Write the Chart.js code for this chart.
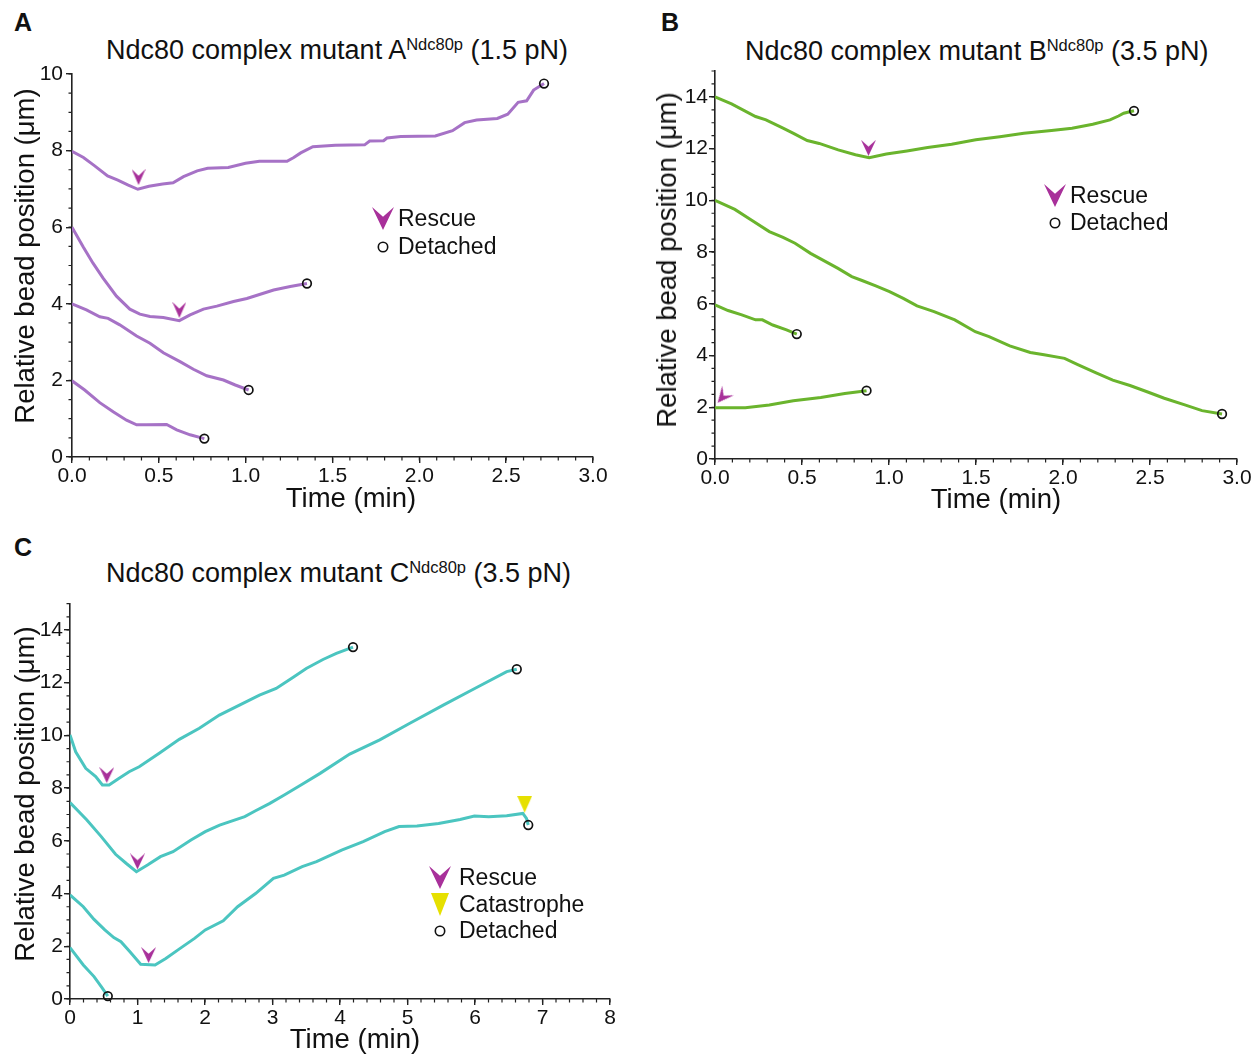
<!DOCTYPE html>
<html>
<head>
<meta charset="utf-8">
<script src="https://cdn.jsdelivr.net/npm/chart.js@4.4.1/dist/chart.umd.min.js"></script>
<style>
  body { margin: 0; background: #fff; }
  #page { position: relative; width: 1260px; height: 1055px; overflow: hidden;
          font-family: "Liberation Sans", Arial, sans-serif; color: #111; }
  canvas { position: absolute; }
  .letter { position: absolute; font-weight: bold; font-size: 25px; line-height: 25px; }
  .title { position: absolute; font-size: 27px; line-height: 27px; white-space: nowrap; }
  .title span { font-size: 16.5px; position: relative; top: -9px; }
  .xt, .yt { position: absolute; font-size: 27.5px; line-height: 28px; white-space: nowrap;
             transform: translate(-50%, -50%); }
  .yt { transform: translate(-50%, -50%) rotate(-90deg); }
  .icon { position: absolute; line-height: 0; }
  .ltext { position: absolute; font-size: 23px; line-height: 23px; white-space: nowrap; }
</style>
</head>
<body>
<div id="page">
  <div class="letter" style="left:14px;top:10px">A</div>
  <div class="letter" style="left:661px;top:10px">B</div>
  <div class="letter" style="left:14px;top:535px">C</div>

  <div class="title" style="left:106px;top:37px">Ndc80 complex mutant A<span>Ndc80p</span> (1.5 pN)</div>
  <div class="title" style="left:745px;top:38px">Ndc80 complex mutant B<span>Ndc80p</span> (3.5 pN)</div>
  <div class="title" style="left:106px;top:560px">Ndc80 complex mutant C<span>Ndc80p</span> (3.5 pN)</div>

  <canvas id="chartA" width="640" height="520" style="left:0;top:0"></canvas>
  <canvas id="chartB" width="620" height="520" style="left:640px;top:0"></canvas>
  <canvas id="chartC" width="640" height="525" style="left:0;top:530px"></canvas>

  <div class="yt" style="left:25px;top:256px">Relative bead position (μm)</div>
  <div class="yt" style="left:667px;top:260px">Relative bead position (μm)</div>
  <div class="yt" style="left:25px;top:794px">Relative bead position (μm)</div>
  <div class="xt" style="left:351px;top:498px">Time (min)</div>
  <div class="xt" style="left:996px;top:499px">Time (min)</div>
  <div class="xt" style="left:355px;top:1039px">Time (min)</div>
</div>

<script>
// panel A (1.5 pN)
const aTime1 = [0, 0.066, 0.125, 0.205, 0.264, 0.324, 0.379, 0.443, 0.522, 0.582, 0.642, 0.721, 0.781, 0.900, 0.999, 1.079, 1.238, 1.277, 1.317, 1.387, 1.516, 1.685, 1.714, 1.794, 1.814, 1.893, 2.092, 2.191, 2.261, 2.330, 2.449, 2.509, 2.569, 2.618, 2.658, 2.718];
const aPos1 = [7.98, 7.82, 7.62, 7.34, 7.23, 7.10, 6.99, 7.07, 7.13, 7.16, 7.32, 7.47, 7.54, 7.56, 7.67, 7.72, 7.72, 7.82, 7.94, 8.10, 8.14, 8.15, 8.25, 8.26, 8.33, 8.37, 8.38, 8.52, 8.73, 8.80, 8.84, 8.95, 9.26, 9.30, 9.58, 9.75];
const aTime2 = [0, 0.064, 0.121, 0.179, 0.256, 0.333, 0.391, 0.449, 0.526, 0.618, 0.680, 0.757, 0.834, 0.930, 1.007, 1.084, 1.161, 1.257, 1.353];
const aPos2 = [6.0, 5.49, 5.06, 4.67, 4.20, 3.86, 3.73, 3.67, 3.64, 3.56, 3.71, 3.86, 3.94, 4.06, 4.14, 4.25, 4.36, 4.45, 4.53];
const aTime3 = [0, 0.083, 0.160, 0.208, 0.275, 0.372, 0.449, 0.526, 0.622, 0.699, 0.776, 0.872, 0.940, 1.017];
const aPos3 = [4.0, 3.84, 3.66, 3.62, 3.45, 3.16, 2.97, 2.72, 2.49, 2.29, 2.12, 2.01, 1.88, 1.75];
const aTime4 = [0, 0.073, 0.160, 0.237, 0.314, 0.372, 0.429, 0.545, 0.603, 0.680, 0.762];
const aPos4 = [1.99, 1.75, 1.42, 1.18, 0.96, 0.84, 0.84, 0.85, 0.71, 0.58, 0.48];
const aRescueTime = [0.383, 0.618];
const aRescuePos = [7.31, 3.84];
const aDetachTime = [2.718, 1.353, 1.017, 0.762];
const aDetachPos = [9.75, 4.53, 1.75, 0.48];

// panel B (3.5 pN)
const bTime1 = [0, 0.095, 0.233, 0.293, 0.391, 0.451, 0.530, 0.599, 0.708, 0.807, 0.886, 0.985, 1.103, 1.222, 1.360, 1.499, 1.637, 1.775, 1.934, 2.052, 2.171, 2.270, 2.319, 2.349, 2.408];
const bPos1 = [14.0, 13.73, 13.24, 13.11, 12.79, 12.59, 12.31, 12.20, 11.95, 11.76, 11.65, 11.79, 11.91, 12.04, 12.17, 12.34, 12.46, 12.59, 12.70, 12.79, 12.94, 13.11, 13.26, 13.37, 13.46];
const bTime2 = [0, 0.114, 0.213, 0.312, 0.391, 0.46, 0.549, 0.628, 0.707, 0.786, 0.845, 0.924, 1.003, 1.082, 1.161, 1.259, 1.378, 1.496, 1.575, 1.694, 1.812, 1.891, 2.009, 2.088, 2.187, 2.286, 2.385, 2.483, 2.582, 2.700, 2.799, 2.914];
const bPos2 = [10.0, 9.65, 9.22, 8.79, 8.57, 8.34, 7.95, 7.66, 7.37, 7.05, 6.90, 6.69, 6.47, 6.21, 5.92, 5.70, 5.38, 4.92, 4.73, 4.37, 4.12, 4.03, 3.89, 3.64, 3.34, 3.05, 2.84, 2.60, 2.35, 2.09, 1.87, 1.74];
const bTime3 = [0, 0.075, 0.154, 0.233, 0.272, 0.332, 0.411, 0.470];
const bPos3 = [5.96, 5.74, 5.57, 5.38, 5.38, 5.18, 4.99, 4.83];
const bTime4 = [0, 0.174, 0.312, 0.450, 0.608, 0.746, 0.871];
const bPos4 = [1.98, 1.98, 2.09, 2.25, 2.38, 2.53, 2.64];
const bRescueTime = [0.882, 0.045];
const bRescuePos = [12.03, 2.41];
const bDetachTime = [2.408, 2.914, 0.470, 0.871];
const bDetachPos = [13.46, 1.74, 4.83, 2.64];

// panel C (3.5 pN)
const cTime1 = [0, 0.084, 0.233, 0.381, 0.480, 0.579, 0.728, 0.876, 1.025, 1.322, 1.619, 1.916, 2.213, 2.510, 2.807, 3.054, 3.302, 3.5, 3.748, 3.946, 4.193];
const cPos1 = [10.02, 9.38, 8.75, 8.44, 8.12, 8.12, 8.37, 8.62, 8.81, 9.32, 9.85, 10.27, 10.77, 11.15, 11.53, 11.78, 12.20, 12.54, 12.88, 13.11, 13.35];
const cTime2 = [0, 0.25, 0.463, 0.675, 0.835, 0.984, 1.154, 1.34, 1.526, 1.792, 2.004, 2.217, 2.589, 2.749, 2.961, 3.174, 3.44, 3.705, 4.144, 4.589, 5.035, 5.530, 5.975, 6.470, 6.619];
const cPos2 = [7.45, 6.79, 6.16, 5.49, 5.14, 4.83, 5.09, 5.40, 5.59, 6.03, 6.35, 6.60, 6.92, 7.14, 7.42, 7.74, 8.15, 8.56, 9.29, 9.83, 10.46, 11.15, 11.75, 12.42, 12.51];
const cTime3 = [0, 0.197, 0.356, 0.516, 0.649, 0.755, 0.888, 1.047, 1.26, 1.419, 1.632, 1.845, 2.004, 2.27, 2.483, 2.749, 3.014, 3.174, 3.44, 3.652, 4.024, 4.343, 4.662, 4.875, 5.141, 5.46, 5.779, 5.991, 6.204, 6.47, 6.709, 6.762, 6.789];
const cPos3 = [3.95, 3.5, 3.02, 2.62, 2.33, 2.17, 1.79, 1.32, 1.29, 1.54, 1.92, 2.30, 2.62, 2.97, 3.50, 4.0, 4.58, 4.70, 5.02, 5.21, 5.65, 5.97, 6.35, 6.54, 6.56, 6.66, 6.81, 6.94, 6.91, 6.95, 7.04, 6.85, 6.60];
const cTime4 = [0, 0.197, 0.356, 0.463, 0.56];
const cPos4 = [1.95, 1.29, 0.85, 0.47, 0.11];
const cRescueTime = [0.545, 1.0, 1.164];
const cRescuePos = [8.50, 5.22, 1.67];
const cCatTime = [6.736];
const cCatPos = [7.39];
const cDetachTime = [4.193, 6.619, 6.789, 0.56];
const cDetachPos = [13.35, 12.51, 6.60, 0.11];

const purple = '#a672c6', green = '#6ab42d', teal = '#4bc5c0';
const magenta = '#a8309a', yellow = '#e6e000';
const fontFamily = '"Liberation Sans", Arial, sans-serif';

function chevron(w, h) {
  const c = document.createElement('canvas');
  c.width = w; c.height = h;
  const g = c.getContext('2d');
  g.fillStyle = magenta;
  g.beginPath();
  g.moveTo(0, 0); g.lineTo(w / 2, h * 0.42); g.lineTo(w, 0); g.lineTo(w / 2, h);
  g.closePath(); g.fill();
  return c;
}
function downTriangle(w, h) {
  const c = document.createElement('canvas');
  c.width = w; c.height = h;
  const g = c.getContext('2d');
  g.fillStyle = yellow;
  g.beginPath(); g.moveTo(0, 0); g.lineTo(w, 0); g.lineTo(w / 2, h); g.closePath(); g.fill();
  return c;
}

function pts(xs, ys) { return xs.map((x, i) => ({ x: x, y: ys[i] })); }

function trace(xs, ys, color) {
  return { data: pts(xs, ys), showLine: true, borderColor: color, borderWidth: 3,
           pointRadius: 0, order: 5 };
}
function detached(xs, ys) {
  return { data: pts(xs, ys), showLine: false, pointStyle: 'circle', pointRadius: 4.3,
           borderColor: '#111', borderWidth: 1.7, backgroundColor: 'rgba(0,0,0,0)',
           clip: false, order: 1 };
}
function symbols(xs, ys, img, rotation) {
  return { data: pts(xs, ys), showLine: false, pointStyle: img, pointRadius: 6,
           rotation: rotation || 0, clip: false, order: 2 };
}

// short minor ticks between the labelled ones
const minorTicks = {
  id: 'minorTicks',
  afterDraw(chart, args, opts) {
    const { ctx, chartArea } = chart;
    const xs = chart.scales.x, ys = chart.scales.y;
    ctx.save();
    ctx.strokeStyle = '#222';
    ctx.lineWidth = 1.2;
    ctx.beginPath();
    const nx = Math.round((xs.max - xs.min) / opts.x);
    for (let i = 0; i <= nx; i++) {
      const px = xs.getPixelForValue(xs.min + i * opts.x);
      ctx.moveTo(px, chartArea.bottom); ctx.lineTo(px, chartArea.bottom + 3.5);
    }
    const ny = Math.round((ys.max - ys.min) / opts.y);
    for (let i = 0; i <= ny; i++) {
      const py = ys.getPixelForValue(ys.min + i * opts.y);
      ctx.moveTo(chartArea.left, py); ctx.lineTo(chartArea.left - 3.5, py);
    }
    ctx.stroke();
    ctx.restore();
  }
};

function makeChart(id, datasets, o) {
  return new Chart(document.getElementById(id), {
    type: 'scatter',
    data: { datasets: datasets },
    plugins: [minorTicks],
    options: {
      responsive: false,
      animation: false,
      devicePixelRatio: 1,
      layout: { padding: o.padding },
      plugins: {
        legend: { display: false },
        tooltip: { enabled: false },
        minorTicks: { x: o.xMinor, y: o.yMinor }
      },
      scales: {
        x: {
          type: 'linear', min: 0, max: o.xMax,
          afterFit: s => { s.height = o.xHeight; },
          border: { color: '#222', width: 1.6 },
          grid: { drawOnChartArea: false, color: '#222', lineWidth: 1.4, tickLength: 6 },
          ticks: { stepSize: o.xStep, padding: 1, color: '#111', maxRotation: 0, autoSkip: false,
                   font: { family: fontFamily, size: 21 }, callback: o.xFormat }
        },
        y: {
          type: 'linear', min: 0, max: o.yMax,
          afterFit: s => { s.width = o.yWidth; },
          border: { color: '#222', width: 1.6 },
          grid: { drawOnChartArea: false, color: '#222', lineWidth: 1.4, tickLength: 6 },
          ticks: { stepSize: 2, padding: o.yPad, color: '#111', includeBounds: false, autoSkip: false,
                   font: { family: fontFamily, size: 21 } }
        }
      }
    }
  });
}

const oneDecimal = v => v.toFixed(1);

makeChart('chartA', [
  detached(aDetachTime, aDetachPos),
  symbols(aRescueTime, aRescuePos, chevron(14, 16)),
  trace(aTime1, aPos1, purple),
  trace(aTime2, aPos2, purple),
  trace(aTime3, aPos3, purple),
  trace(aTime4, aPos4, purple)
], { padding: { left: 0, top: 74, right: 47, bottom: 0 }, yWidth: 72, xHeight: 63,
     xMax: 3, xStep: 0.5, xMinor: 0.1, yMax: 10, yMinor: 0.5, yPad: 3, xFormat: oneDecimal });

makeChart('chartB', [
  detached(bDetachTime, bDetachPos),
  symbols(bRescueTime, bRescuePos, chevron(15, 16), ctx => ctx.dataIndex === 1 ? 40 : 0),
  trace(bTime1, bPos1, green),
  trace(bTime2, bPos2, green),
  trace(bTime3, bPos3, green),
  trace(bTime4, bPos4, green)
], { padding: { left: 0, top: 71, right: 23, bottom: 0 }, yWidth: 75, xHeight: 61,
     xMax: 3, xStep: 0.5, xMinor: 0.1, yMax: 15, yMinor: 0.5, yPad: 1, xFormat: oneDecimal });

makeChart('chartC', [
  detached(cDetachTime, cDetachPos),
  symbols(cRescueTime, cRescuePos, chevron(15, 16)),
  symbols(cCatTime, cCatPos, downTriangle(15, 17)),
  trace(cTime1, cPos1, teal),
  trace(cTime2, cPos2, teal),
  trace(cTime3, cPos3, teal),
  trace(cTime4, cPos4, teal)
], { padding: { left: 0, top: 73.6, right: 30, bottom: 0 }, yWidth: 70, xHeight: 56,
     xMax: 8, xStep: 1, xMinor: 0.2, yMax: 15, yMinor: 0.5, yPad: 1, xFormat: v => String(v) });

// legends
const page = document.getElementById('page');
const rescueIcon = { w: 22, h: 23, svg: '<svg width="22" height="23"><polygon points="0,0 11,9.7 22,0 11,23" fill="' + magenta + '"/></svg>' };
const catIcon = { w: 18, h: 23, svg: '<svg width="18" height="23"><polygon points="0,0 18,0 9,23" fill="' + yellow + '"/></svg>' };
const detachIcon = { w: 12, h: 12, svg: '<svg width="12" height="12"><circle cx="6" cy="6" r="4.7" fill="none" stroke="#111" stroke-width="1.6"/></svg>' };

function addLegend(cx, cy, gap, textX, items) {
  items.forEach((it, i) => {
    const y = cy + i * gap;
    const ic = document.createElement('div');
    ic.className = 'icon';
    ic.innerHTML = it[0].svg;
    ic.style.left = (cx - it[0].w / 2) + 'px';
    ic.style.top = (y - it[0].h / 2) + 'px';
    const tx = document.createElement('div');
    tx.className = 'ltext';
    tx.textContent = it[1];
    tx.style.left = textX + 'px';
    tx.style.top = (y - 11.5) + 'px';
    page.append(ic, tx);
  });
}
addLegend(383, 218.5, 28, 398, [[rescueIcon, 'Rescue'], [detachIcon, 'Detached']]);
addLegend(1055, 195, 27.5, 1070, [[rescueIcon, 'Rescue'], [detachIcon, 'Detached']]);
addLegend(440, 877.5, 26.5, 459, [[rescueIcon, 'Rescue'], [catIcon, 'Catastrophe'], [detachIcon, 'Detached']]);
</script>
</body>
</html>
